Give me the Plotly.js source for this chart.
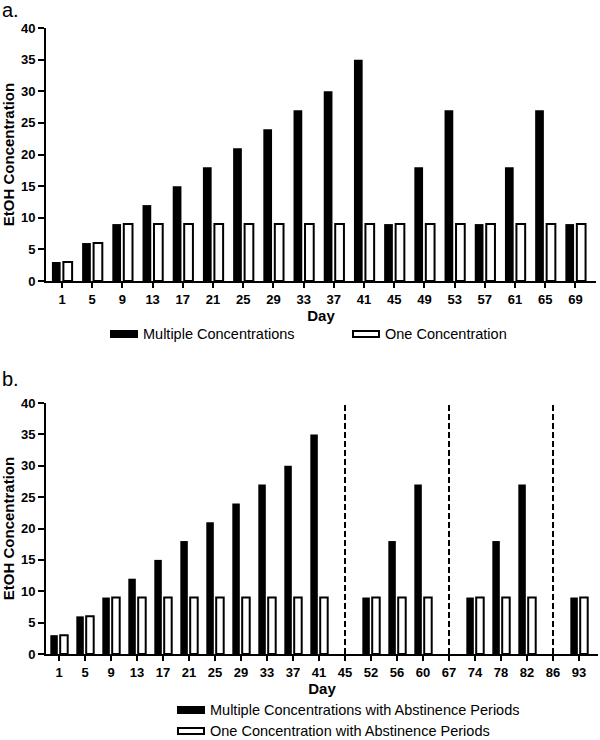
<!DOCTYPE html>
<html>
<head>
<meta charset="utf-8">
<script src="https://cdn.plot.ly/plotly-3.0.1.min.js"></script>
<style>
  body { margin: 0; background: white; }
  #graph { width: 600px; height: 740px; }
</style>
</head>
<body>
<div id="graph"></div>
<script>
// Datos panel a
var daysA = ['1', '5', '9', '13', '17', '21', '25', '29', '33', '37', '41', '45', '49', '53', '57', '61', '65', '69'];
var multipleA = [3, 6, 9, 12, 15, 18, 21, 24, 27, 30, 35, 9, 18, 27, 9, 18, 27, 9];
var oneA = [3, 6, 9, 9, 9, 9, 9, 9, 9, 9, 9, 9, 9, 9, 9, 9, 9, 9];

// Datos panel b (sin barras en los dias de abstinencia)
var daysB = ['1', '5', '9', '13', '17', '21', '25', '29', '33', '37', '41', '45', '52', '56', '60', '67', '74', '78', '82', '86', '93'];
var multipleB = [3, 6, 9, 12, 15, 18, 21, 24, 27, 30, 35, null, 9, 18, 27, null, 9, 18, 27, null, 9];
var oneB = [3, 6, 9, 9, 9, 9, 9, 9, 9, 9, 9, null, 9, 9, 9, null, 9, 9, 9, null, 9];
var abstinenceDays = ['45', '67', '86'];
var lineTop = 40;

// Leyendas
var legendA = ['Multiple Concentrations', 'One Concentration'];
var legendB = ['Multiple Concentrations with Abstinence Periods', 'One Concentration with Abstinence Periods'];

var W = 600, H = 740;
var fontFam = 'Liberation Sans, Arial, sans-serif';

// Pixeles a coordenadas de papel
function px(x) { return x / W; }
function py(y) { return 1 - y / H; }

// Lineas discontinuas verticales
var dashX = [], dashY = [];
for (var i = 0; i < abstinenceDays.length; i++) {
    dashX.push(abstinenceDays[i], abstinenceDays[i], null);
    dashY.push(0, lineTop, null);
}

var blackBar = { color: 'black', line: { color: 'black', width: 0 } };
var whiteBar = { color: 'white', line: { color: 'black', width: 2 } };

var data = [
    { type: 'bar', x: daysA, y: multipleA, name: legendA[0], marker: blackBar, xaxis: 'x', yaxis: 'y' },
    { type: 'bar', x: daysA, y: oneA, name: legendA[1], marker: whiteBar, xaxis: 'x', yaxis: 'y' },
    { type: 'bar', x: daysB, y: multipleB, name: legendB[0], marker: blackBar, xaxis: 'x2', yaxis: 'y2' },
    { type: 'bar', x: daysB, y: oneB, name: legendB[1], marker: whiteBar, xaxis: 'x2', yaxis: 'y2' },
    { type: 'scatter', mode: 'lines', x: dashX, y: dashY, xaxis: 'x2', yaxis: 'y2',
      line: { color: 'black', width: 2, dash: '6px,3px' }, connectgaps: false }
];

function xAxis(domain, range, cats, anchor) {
    return {
        domain: domain,
        anchor: anchor,
        type: 'category',
        categoryorder: 'array',
        categoryarray: cats,
        range: range,
        showline: true,
        linecolor: 'black',
        linewidth: 2,
        ticks: 'outside',
        ticklen: 5,
        tickwidth: 2,
        tickcolor: 'black',
        showgrid: false,
        zeroline: false,
        tickfont: { family: fontFam, size: 13, color: 'black', weight: 'bold' },
        title: { text: 'Day', font: { family: fontFam, size: 15, color: 'black', weight: 'bold' }, standoff: 4 }
    };
}

function yAxis(domain, anchor) {
    return {
        domain: domain,
        anchor: anchor,
        range: [0, 40],
        dtick: 5,
        showline: true,
        linecolor: 'black',
        linewidth: 2,
        ticks: 'outside',
        ticklen: 6,
        tickwidth: 2,
        tickcolor: 'black',
        showgrid: false,
        zeroline: false,
        tickfont: { family: fontFam, size: 13, color: 'black', weight: 'bold' },
        title: { text: 'EtOH Concentration', font: { family: fontFam, size: 15, color: 'black', weight: 'bold' }, standoff: 4 }
    };
}

// Leyenda dibujada a mano
var shapes = [], annotations = [];
function legendItem(x, y, label, filled) {
    shapes.push({
        type: 'rect', xref: 'paper', yref: 'paper',
        x0: px(x), x1: px(x + 26), y0: py(y + 3), y1: py(y - 3),
        fillcolor: filled ? 'black' : 'white',
        line: { color: 'black', width: 2 }
    });
    annotations.push({
        xref: 'paper', yref: 'paper', x: px(x + 30), y: py(y),
        xanchor: 'left', yanchor: 'middle', showarrow: false, text: label,
        font: { family: fontFam, size: 14.5, color: 'black' }
    });
}
legendItem(111, 334, legendA[0], true);
legendItem(353, 334, legendA[1], false);
legendItem(178, 710, legendB[0], true);
legendItem(178, 731, legendB[1], false);

annotations.push({ xref: 'paper', yref: 'paper', x: 0, y: py(10), xanchor: 'left', yanchor: 'middle',
    showarrow: false, text: 'a.', font: { family: fontFam, size: 20, color: 'black' } });
annotations.push({ xref: 'paper', yref: 'paper', x: 0, y: py(379), xanchor: 'left', yanchor: 'middle',
    showarrow: false, text: 'b.', font: { family: fontFam, size: 20, color: 'black' } });

var layout = {
    width: W,
    height: H,
    margin: { l: 0, r: 0, t: 0, b: 0 },
    paper_bgcolor: 'white',
    plot_bgcolor: 'white',
    showlegend: false,
    barmode: 'group',
    bargap: 0.24,
    bargroupgap: 0.24,
    xaxis: xAxis([px(46), px(596)], [-0.53, 17.68], daysA, 'y'),
    yaxis: yAxis([py(281), py(28)], 'x'),
    xaxis2: xAxis([px(46), px(598)], [-0.5, 20.73], daysB, 'y2'),
    yaxis2: yAxis([py(654), py(403)], 'x2'),
    shapes: shapes,
    annotations: annotations
};

var config = {
    staticPlot: true
};

Plotly.newPlot('graph', data, layout, config);
</script>
</body>
</html>
